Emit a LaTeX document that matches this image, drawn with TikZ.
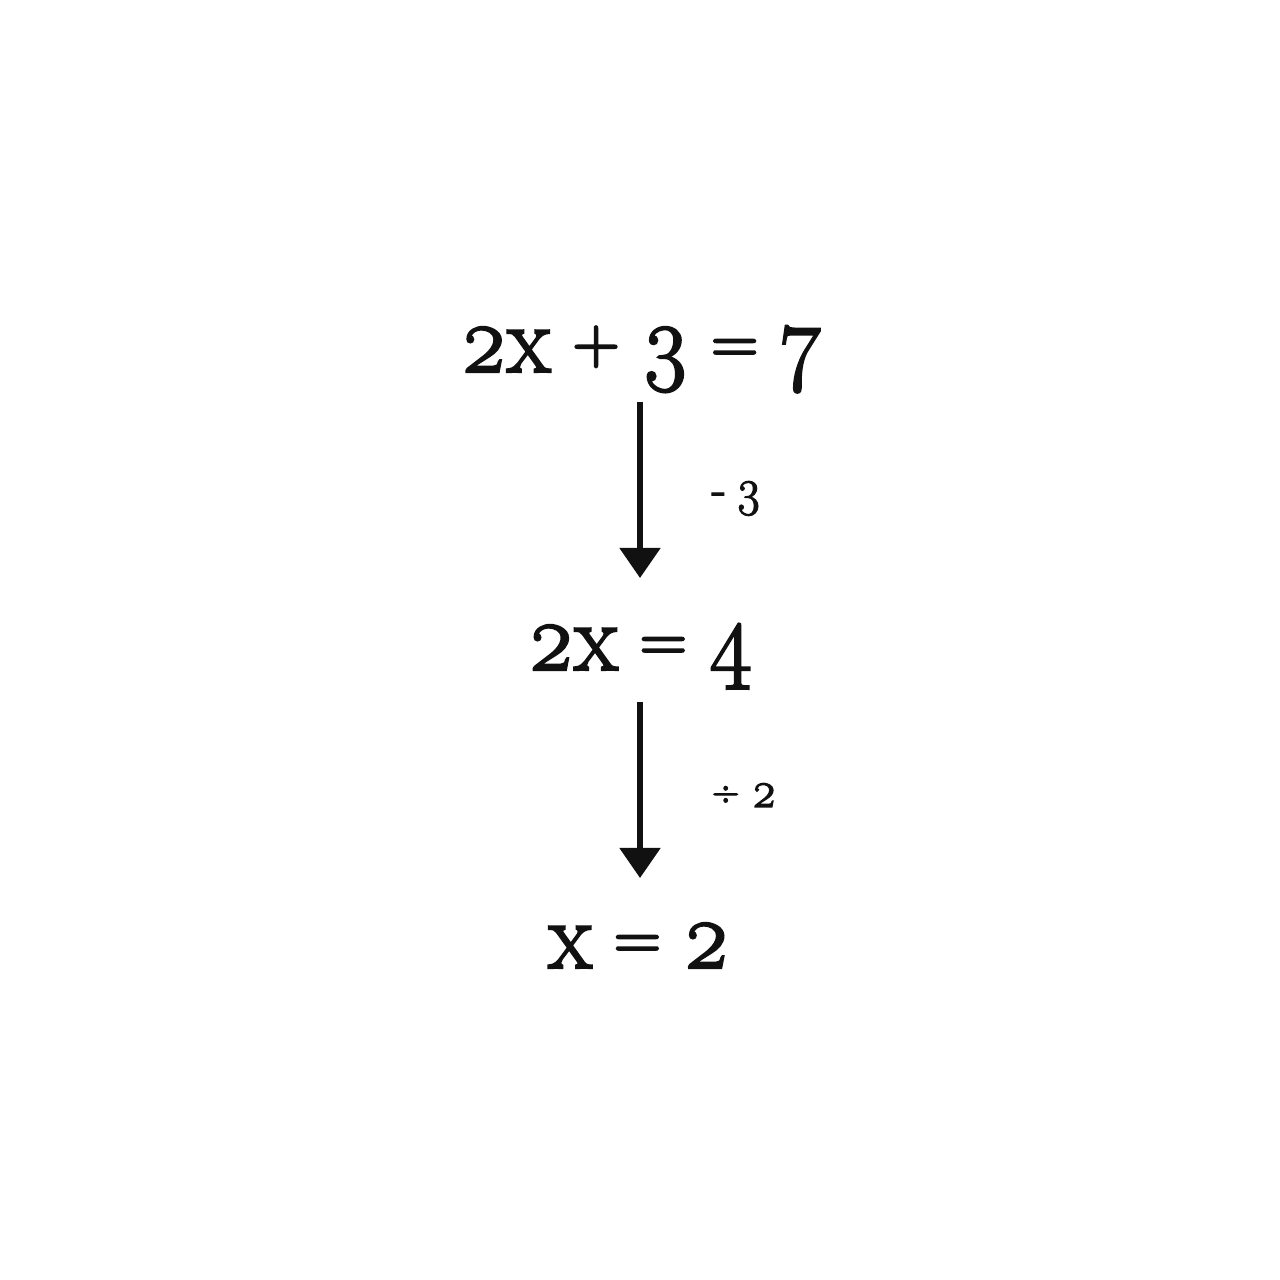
\documentclass[tikz,border=0pt]{standalone}
\usepackage{fontspec}
\usetikzlibrary{arrows.meta}
\definecolor{ink}{HTML}{111111}
\newfontfamily\eqfont{Latin Modern Roman}[Numbers=OldStyle,FakeBold=2.4,FakeStretch=0.93]
\newfontfamily\opfont{Latin Modern Roman}[FakeBold=3.5]
\newcommand{\eqop}[1]{{\opfont\fontsize{18.5}{22}\selectfont\raisebox{0.09cm}{#1}}}
\newcommand{\gap}{\hspace{0.22cm}}

\begin{document}
\begin{tikzpicture}[line cap=butt,>={Triangle[length=0.3cm,width=0.4cm]},x=1.0cm,y=1.0cm,
		eqn/.style={anchor=base,text=ink,inner sep=0pt,font=\eqfont\fontsize{27.5}{32}\selectfont},
		stepnote/.style={anchor=base west,text=ink,inner sep=0pt,font=\eqfont\fontsize{14.5}{17}\selectfont},
		stepline/.style={->,draw=ink,line width=1.5pt}]
			\useasboundingbox (0,0) rectangle (12.8,12.8);
			\node[eqn] (eqA) at (6.415,9.08) {2x\gap\eqop{+}\gap3\gap\eqop{=}\gap7};
			\node[eqn] (eqB) at (6.40,6.10) {2x\gap\eqop{=}\gap4};
			\node[eqn] (eqC) at (6.39,3.12) {x\gap\eqop{=}\gap2};
			\coordinate (arrA) at (6.40,8.78);
			\coordinate (tipA) at (6.40,7.02);
			\coordinate (arrB) at (6.40,5.78);
			\coordinate (tipB) at (6.40,4.02);
			\draw [stepline] (arrA) -- (tipA);
			\draw [stepline] (arrB) -- (tipB);
			\node[stepnote] (opA) at (7.11,7.75) {-\hspace{0.1cm}3};
			\node[stepnote] (opB) at (7.11,4.73) {{\fontsize{11}{13}\selectfont\raisebox{0.03cm}{÷}}\hspace{0.12cm}2};
		\end{tikzpicture}
\end{document}
